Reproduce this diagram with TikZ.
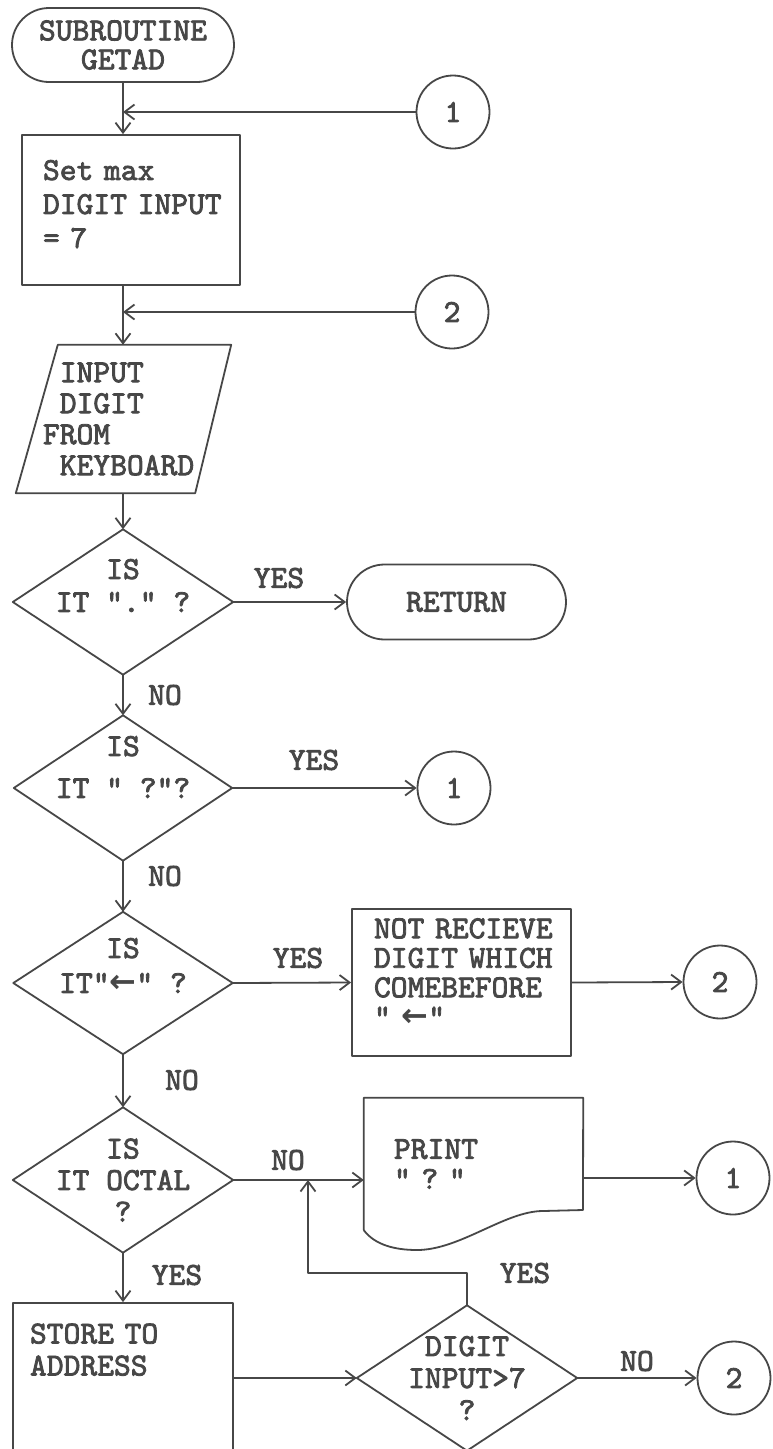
\documentclass[tikz,border=0pt]{standalone}
\usepackage{fontspec}
\newfontfamily\arrfont{DejaVu Sans}
\newfontfamily\twfont{lmmono10-regular.otf}[FakeBold=2.5, HyphenChar=None]
\usetikzlibrary{arrows.meta,shapes.misc,calc}
\colorlet{ink}{black!72}
\newcommand\tw[1]{\twfont\fontsize{32}{#1}\selectfont\fontdimen2\font=16.8pt \fontdimen3\font=0pt \fontdimen4\font=0pt \hyphenpenalty=10000 \hbadness=10000 \hfuzz=100pt }
\newcommand\larr{{\arrfont\bfseries ←}}
\tikzset{
  ln/.style={draw=ink, line width=1.8pt, line join=round},
  arr/.style={ln, -{Straight Barb[length=10pt,width=15pt,line width=1.8pt]}},
  txt/.style={text=ink, inner sep=0pt},
  term/.style={txt, ln, rounded rectangle, align=center},
  conn/.style={txt, ln, circle, minimum size=73pt, font=\tw{34}},
  proc/.style={txt, ln, rectangle, align=left},
  ghost/.style={txt, draw=none, rectangle},
  lab/.style={txt, font=\tw{34}},
}
\begin{document}
\begin{tikzpicture}[x=1pt,y=-1pt]
\fill[white] (0,0) rectangle (772,1449);
\useasboundingbox (0,0) rectangle (772,1449);
\coordinate (col) at (123,0);

% top
\node[term, minimum width=222pt, minimum height=74pt, font=\tw{29}] (start) at (123,45) {SUBROUTINE\\GETAD};
\node[conn] (c1a) at (453,112) {1};
\node[proc, minimum width=218pt, minimum height=150pt, text width=176pt, font=\tw{34}] (setmax) at (131,210) {Set~max\\DIGIT~INPUT\\=~7\\[-22pt]~};
\node[conn] (c2a) at (452,312) {2};
\node[ghost, minimum width=215pt, minimum height=148pt, text width=161pt, align=left, font=\tw{31}] (input) at (123.5,419) {\phantom{X}INPUT\\\phantom{X}DIGIT\\FROM\\\phantom{X}KEYBOARD};
\draw[ln] ($(input.north west)+(42,0)$) -- (input.north east) -- ($(input.south east)+(-36,0)$) -- (input.south west) -- cycle;

% decisions
\node[ghost, minimum width=220pt, minimum height=145pt, align=center, font=\tw{33}] (d1) at (123,602) {IS\\IT~"."~?\\~};
\draw[ln] (d1.north) -- (d1.east) -- (d1.south) -- (d1.west) -- cycle;
\node[term, minimum width=219pt, minimum height=75pt, font=\tw{34}] (ret) at (456.5,602) {RETURN};

\node[ghost, minimum width=218pt, minimum height=145pt, align=center, font=\tw{42}] (d2) at (123,788) {IS\\IT~"~?"?\\~};
\draw[ln] (d2.north) -- (d2.east) -- (d2.south) -- (d2.west) -- cycle;
\node[conn] (c1b) at (454,788) {1};

\node[ghost, minimum width=219pt, minimum height=142pt, align=center, font=\tw{35}] (d3) at (123,983) {IS\\IT"\larr"~?\\~};
\draw[ln] (d3.north) -- (d3.east) -- (d3.south) -- (d3.west) -- cycle;
\node[proc, minimum width=219pt, minimum height=147pt, text width=175pt, font=\tw{29.5}] (nr) at (461.5,982.5) {NOT~RECIEVE\\DIGIT~WHICH\\COMEBEFORE\\"~\larr"\\[-9.5pt]~};
\node[conn] (c2b) at (720,982) {2};

\node[ghost, minimum width=220pt, minimum height=145pt, align=center, font=\tw{31.5}] (d4) at (123,1180) {IS\\IT~OCTAL\\?};
\draw[ln] (d4.north) -- (d4.east) -- (d4.south) -- (d4.west) -- cycle;
\node[ghost, minimum width=219pt, minimum height=132pt, text width=159pt, align=left, font=\tw{30}] (print) at (473.5,1164) {PRINT\\"~?~"};
\draw[ln] (print.south west) -- (print.north west) -- (print.north east) -- (583,1210) -- (543,1211)
  .. controls (505,1211) and (460,1250) .. (417,1250)
  .. controls (395,1250) and (375,1245) .. (print.south west);
\node[conn] (c1c) at (733,1178) {1};

\node[proc, minimum width=220pt, minimum height=157pt, text width=186pt, font=\tw{32}] (store) at (123,1381.5) {STORE~TO\\ADDRESS\\~\\~};
\node[ghost, minimum width=220pt, minimum height=145pt, align=center, font=\tw{32}] (d5) at (467,1378) {DIGIT\\INPUT>7\\?};
\draw[ln] (d5.north) -- (d5.east) -- (d5.south) -- (d5.west) -- cycle;
\node[conn] (c2c) at (734,1378) {2};

% connectors
\draw[arr] (start.south) -- (col |- setmax.north);
\draw[arr] (c1a.west) -- (c1a.west -| col);
\draw[arr] (col |- setmax.south) -- (col |- input.north);
\draw[arr] (c2a.west) -- (c2a.west -| col);
\draw[arr] (col |- input.south) -- (d1.north);
\draw[arr] (d1.east) -- (ret.west);
\draw[arr] (d1.south) -- (d2.north);
\draw[arr] (d2.east) -- (c1b.west);
\draw[arr] (d2.south) -- (d3.north);
\draw[arr] (d3.east) -- (nr.west);
\draw[arr] (nr.east) -- (c2b.west);
\draw[arr] (d3.south) -- (d4.north);
\draw[arr] (d4.east) -- (d4.east -| print.west);
\draw[arr] (c1c.west -| print.east) -- (c1c.west);
\draw[arr] (d4.south) -- (store.north);
\draw[arr] (d5.west -| store.east) -- (d5.west);
\draw[arr] (d5.east) -- (c2c.west);
\coordinate (fb) at (308,1273);
\draw[arr] (d5.north) |- (fb) -- (fb |- d4.east);

% labels
\node[lab] (y1) at (279,578) {YES};
\node[lab] (n1) at (165,695) {NO};
\node[lab] (y2) at (314,760) {YES};
\node[lab] (n2) at (165,876) {NO};
\node[lab] (y3) at (298,958) {YES};
\node[lab] (n3) at (182,1080) {NO};
\node[lab] (n4) at (288,1160) {NO};
\node[lab] (y4) at (177,1275) {YES};
\node[lab] (y5) at (525,1273) {YES};
\node[lab] (n5) at (637,1361) {NO};
\end{tikzpicture}
\end{document}
